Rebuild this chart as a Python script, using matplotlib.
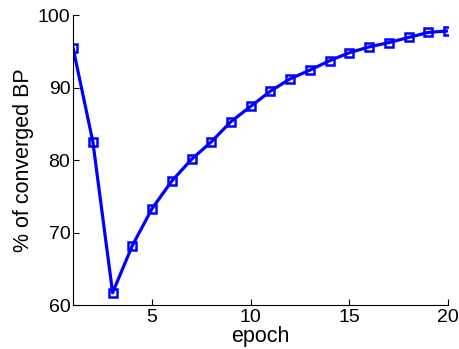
import matplotlib.pyplot as plt

epochs = list(range(1, 21))
converged = [95.4, 82.5, 61.7, 68.2, 73.3, 77.1, 80.1, 82.5, 85.3, 87.4,
             89.5, 91.2, 92.4, 93.7, 94.8, 95.6, 96.2, 96.9, 97.6, 97.8]
xticks = [5, 10, 15, 20]
yticks = [60, 70, 80, 90, 100]

plt.rcParams['font.family'] = ['Liberation Sans', 'DejaVu Sans']

fig = plt.figure(figsize=(4.6, 3.49), dpi=100)
ax = fig.add_axes([0.159, 0.126, 0.815, 0.831])
ax.plot(epochs, converged, color='#0000ff', linewidth=2.3, marker='s',
        markersize=5.5, markerfacecolor='none', markeredgewidth=1.8)
ax.set_xlim(1, 20)
ax.set_ylim(60, 100)
ax.set_xticks(xticks)
ax.set_yticks(yticks)
ax.tick_params(direction='in', labelsize=14, length=4, pad=3)
ax.tick_params(axis='y', pad=2)
for s in ['top', 'right']:
    ax.spines[s].set_visible(False)
ax.set_xlabel('epoch', fontsize=15.5, labelpad=0)
ax.set_ylabel('% of converged BP', fontsize=15.5, labelpad=3)
fig.savefig('out.png', dpi=100)
